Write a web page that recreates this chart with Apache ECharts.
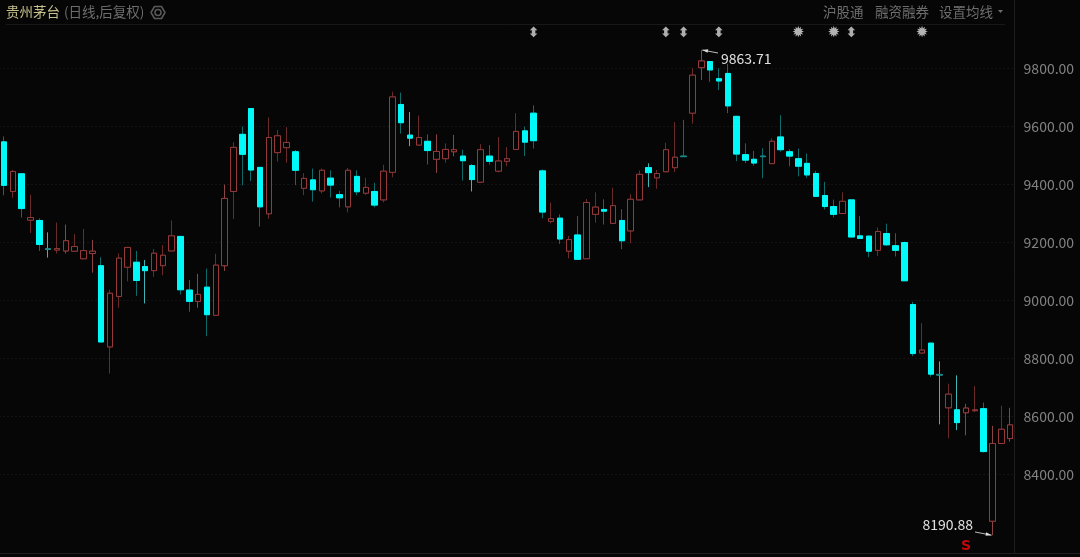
<!DOCTYPE html>
<html><head><meta charset="utf-8">
<style>html,body{margin:0;padding:0;background:#060606}#c{width:1080px;height:557px}</style>
<script src="https://cdn.jsdelivr.net/npm/echarts@6/dist/echarts.min.js"></script>
</head><body><div id="c"></div>
<script>
const opens=[9547,9376,9437,9277,9276,9178,9174,9171,9170,9144,9162,9120,8840,9014,9115,9132,9117,9103,9120,9171,9221,9036,8997,9046,8949,9120,9376,9573,9662,9459,9299,9510,9527,9513,9387,9416,9378,9422,9365,9323,9428,9370,9376,9347,9442,9676,9570,9536,9549,9487,9489,9513,9498,9465,9408,9498,9446,9480,9521,9585,9646,9447,9273,9284,9170,9226,9144,9297,9314,9266,9276,9240,9347,9458,9423,9444,9458,9498,9646,9803,9824,9765,9783,9635,9503,9487,9498,9472,9564,9513,9489,9473,9438,9362,9324,9300,9347,9223,9222,9173,9231,9189,9200,8986,8819,8853,8745,8630,8623,8613,8620,8627,8239,8507,8524];
const closes=[9397,9445,9317,9286,9193,9176,9179,9206,9186,9172,9170,8857,9025,9146,9183,9069,9103,9163,9156,9223,9037,8997,9021,8951,9122,9352,9528,9504,9450,9323,9562,9568,9545,9449,9421,9382,9449,9398,9354,9449,9375,9390,9329,9446,9702,9613,9560,9562,9517,9514,9521,9520,9482,9417,9520,9480,9481,9489,9583,9546,9551,9305,9282,9212,9210,9142,9338,9322,9308,9327,9206,9349,9435,9441,9438,9520,9494,9496,9777,9826,9795,9757,9671,9505,9484,9474,9496,9549,9520,9498,9463,9433,9359,9324,9297,9342,9219,9214,9170,9238,9192,9173,9068,8817,8829,8746,8743,8677,8579,8629,8623,8479,8507,8556,8571];
const lows=[9363,9354,9286,9233,9171,9148,9162,9162,9170,9144,9096,8857,8748,8975,9066,9016,8990,9082,9087,9171,9021,8961,8975,8877,8949,9102,9281,9397,9412,9255,9282,9479,9475,9398,9363,9341,9369,9355,9321,9304,9363,9364,9321,9338,9425,9576,9532,9536,9469,9440,9475,9497,9414,9376,9408,9468,9442,9463,9521,9498,9524,9284,9266,9195,9145,9142,9144,9268,9262,9266,9177,9197,9347,9391,9385,9444,9443,9497,9610,9760,9754,9726,9646,9480,9474,9465,9422,9472,9513,9463,9428,9423,9359,9314,9286,9300,9219,9214,9149,9154,9188,9152,9068,8808,8819,8737,8573,8525,8553,8535,8615,8476,8190.88,8507,8513];
const highs=[9566,9451,9437,9365,9283,9235,9269,9262,9229,9247,9209,9149,9037,9162,9185,9171,9140,9178,9191,9276,9221,9071,9092,9110,9161,9400,9546,9600,9662,9459,9631,9588,9598,9519,9439,9455,9455,9449,9378,9457,9449,9423,9406,9468,9720,9717,9650,9638,9573,9573,9542,9571,9520,9469,9539,9536,9564,9529,9646,9600,9673,9452,9338,9297,9223,9291,9350,9373,9349,9389,9315,9367,9448,9473,9450,9544,9615,9623,9801,9863.71,9826,9801,9816,9637,9542,9516,9525,9559,9639,9522,9524,9507,9447,9409,9348,9373,9348,9291,9224,9252,9265,9232,9203,8995,8922,8855,8790,8713,8742,8644,8705,8648,8568,8637,8630];
const categories=opens.map((_,i)=>'D'+(i+1));
const yTicks=[8400,8600,8800,9000,9200,9400,9600,9800];
const arrowMarks=[60,75,77,81,96];
const starMarks=[90,94,104];
const sellMark=[109];
const brightCyanWicks=[5,16,46,53,73,106,108];
const brightRedWicks=[7,10,22,25,49,51,79,109,112,114];
const markerLevel=9922, sellLevel=8153;
const maxText='9863.71', minText='8190.88';
const maxIdx=79, minIdx=112;

const bg='#060606', up='#96393a', upWick='#6b2a2a', down='#00fafa', downWick='#0f6a6a';
const wick=categories.map((_,i)=>{
  const value=[opens[i],closes[i],lows[i],highs[i]];
  if(brightCyanWicks.includes(i)) return {value,itemStyle:{borderColor0:'#3fb4b4'}};
  if(brightRedWicks.includes(i)) return {value,itemStyle:{borderColor:'#8a4444'}};
  return value;
});
const body=categories.map((_,i)=>{
  const value=[opens[i],closes[i],Math.min(opens[i],closes[i]),Math.max(opens[i],closes[i])];
  if(opens[i]>closes[i]&&opens[i]-closes[i]<=3) return {value,itemStyle:{color0:'#1a8a8a',borderColor0:'#1a8a8a'}};
  return value;
});
const chart=echarts.init(document.getElementById('c'),null,{renderer:'canvas'});
const font='"Noto Sans CJK SC","Noto Sans",sans-serif';
function markers(list,level,text,color,size){
  return {type:'scatter',data:list.map(i=>[i,level]),symbolSize:1,itemStyle:{color:'transparent'},silent:true,z:5,
    label:{show:true,position:'inside',formatter:text,color:color,fontSize:size,fontFamily:'"DejaVu Sans"',fontWeight:'bold'}};
}
const option={
  backgroundColor:bg,animation:false,
  grid:{left:-0.4,width:1015,top:10.5,height:580,outerBoundsMode:'none',containLabel:false},
  xAxis:{type:'category',data:categories,axisLine:{show:false},axisTick:{show:false},axisLabel:{show:false},splitLine:{show:false}},
  yAxis:{type:'value',position:'right',min:8000,max:10000,
    axisLine:{show:false},
    axisTick:{show:false,customValues:yTicks},
    axisLabel:{customValues:yTicks,color:'#828282',fontSize:14,margin:9,padding:[2,0,0,0],fontFamily:font,formatter:v=>v.toFixed(2)},
    splitLine:{show:true,lineStyle:{color:'#242424',type:[1,3],width:1}}},
  series:[
    {type:'candlestick',data:wick,barWidth:6,z:2,itemStyle:{color:bg,color0:bg,borderColor:upWick,borderColor0:downWick,borderWidth:1}},
    {type:'candlestick',data:body,barWidth:6,z:3,itemStyle:{color:bg,color0:down,borderColor:up,borderColor0:down,borderWidth:1}},
    markers(arrowMarks,markerLevel,'⬍','#d8d8d8',14),
    markers(starMarks,markerLevel,'✹','#e0e0e0',15),
    markers(sellMark,sellLevel,'S','#f00808',14)
  ]
};
chart.setOption(option);
const hi=chart.convertToPixel({xAxisIndex:0,yAxisIndex:0},[maxIdx,highs[maxIdx]]);
const lo=chart.convertToPixel({xAxisIndex:0,yAxisIndex:0},[minIdx,lows[minIdx]]);
function arrow(x1,y1,x2,y2){
  const a=Math.atan2(y2-y1,x2-x1),L=6;
  return [{type:'line',shape:{x1,y1,x2,y2},style:{stroke:'#bbbbbb',lineWidth:1},z:20},
   {type:'polygon',shape:{points:[[x2,y2],[x2-L*Math.cos(a-0.3),y2-L*Math.sin(a-0.3)],[x2-L*Math.cos(a+0.3),y2-L*Math.sin(a+0.3)]]},style:{fill:'#dddddd'},z:20}];
}
function txt(x,y,t,c,s,al){return {type:'text',x,y,z:20,style:{text:t,fill:c,font:s+'px '+font,textAlign:al||'left',textVerticalAlign:'middle'}};}
chart.setOption({graphic:[
  txt(6,12,'贵州茅台','#c6c08a',13.5),
  txt(64,12,'(日线,后复权)','#6e6e6e',13.5),
  {type:'polygon',shape:{points:[[165,12.5],[161.5,18.5],[154.5,18.5],[151,12.5],[154.5,6.5],[161.5,6.5]]},style:{fill:'none',stroke:'#5a5a5a',lineWidth:1.5,lineJoin:'round'},z:20},
  {type:'circle',shape:{cx:158,cy:12.5,r:3},style:{fill:'none',stroke:'#5a5a5a',lineWidth:1.5},z:20},
  txt(823,12,'沪股通','#6e6e6e',13.5),
  txt(875,12,'融资融券','#6e6e6e',13.5),
  txt(939,12,'设置均线','#6e6e6e',13.5),
  {type:'polygon',shape:{points:[[998,10],[1003,10],[1000.5,13]]},style:{fill:'#6e6e6e'},z:20},
  {type:'line',shape:{x1:6,y1:24.5,x2:1005,y2:24.5},style:{stroke:'#181818',lineWidth:1},z:1},
  {type:'line',shape:{x1:1014.5,y1:0,x2:1014.5,y2:553},style:{stroke:'#1e1e1e',lineWidth:1},z:1},
  {type:'line',shape:{x1:0,y1:553.5,x2:1080,y2:553.5},style:{stroke:'#1e1e1e',lineWidth:1},z:1},
  txt(721,59,maxText,'#e0e0e0',14),
  ...arrow(718,53,hi[0]+1,hi[1]),
  txt(973,525,minText,'#e0e0e0',14,'right'),
  ...arrow(975,532,lo[0]-1,lo[1])
]});
</script></body></html>
